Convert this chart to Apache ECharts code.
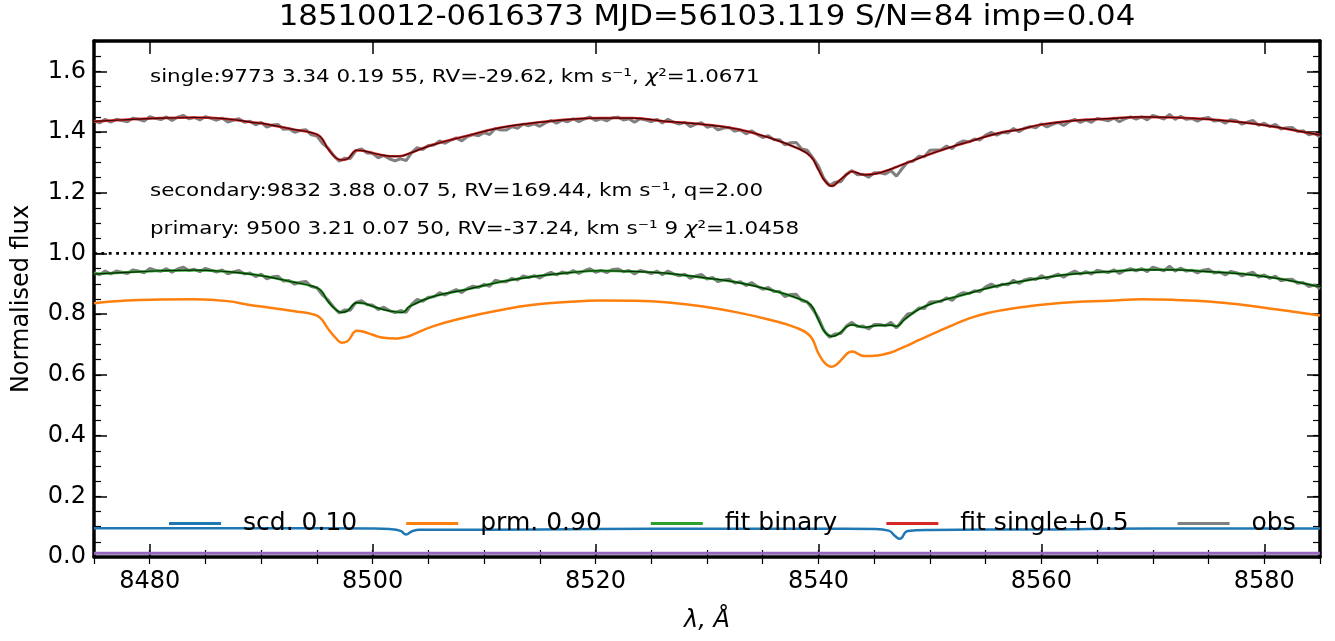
<!DOCTYPE html>
<html><head><meta charset="utf-8">
<script src="https://cdn.jsdelivr.net/npm/echarts@6/dist/echarts.min.js"></script>
<style>html,body{margin:0;padding:0;background:#fff}#c{width:1335px;height:641px}</style>
</head><body><div id="c"></div><script>
// ---- axis ranges / ticks ----
const xMin = 8475, xMax = 8585;
const yMin = 0, yMax = 1.7, yStep = 0.2;
const refLevel = 1.0;       // dotted reference line
const baseLevel = 0.012;    // purple base line
const singleOffset = 0.5;   // "fit single+0.5"

// ---- smooth model curves (wavelength grid) ----
const fitWl = [8475,8478,8481,8484,8487,8489,8490.5,8493,8494.5,8495.3,8496,8496.7,8497.2,8497.7,8498.6,8499.2,8500,8501,8502,8502.7,8503.3,8505.4,8508.4,8511.4,8514.4,8517.4,8520.4,8523.3,8526.3,8529.5,8532.7,8535.7,8538.1,8539.3,8540.0,8540.6,8541.2,8541.8,8542.6,8543.0,8544.1,8545.3,8546.5,8547.0,8547.7,8549.1,8550.6,8552.1,8553.6,8555.1,8556.6,8558,8560,8563,8566,8569,8572,8575,8578,8581,8585];
const primaryFlux = [0.836,0.845,0.848,0.849,0.843,0.830,0.823,0.810,0.801,0.788,0.752,0.721,0.706,0.710,0.745,0.742,0.732,0.722,0.720,0.723,0.728,0.760,0.790,0.813,0.831,0.840,0.845,0.844,0.839,0.826,0.806,0.781,0.754,0.726,0.671,0.638,0.627,0.640,0.671,0.677,0.662,0.664,0.674,0.681,0.692,0.716,0.741,0.765,0.787,0.803,0.814,0.822,0.831,0.840,0.844,0.849,0.847,0.842,0.831,0.816,0.796];
const binaryFlux = [0.932,0.938,0.943,0.945,0.940,0.932,0.924,0.905,0.893,0.880,0.842,0.815,0.806,0.810,0.838,0.836,0.826,0.815,0.808,0.806,0.825,0.858,0.881,0.906,0.924,0.936,0.943,0.941,0.935,0.921,0.905,0.880,0.853,0.831,0.781,0.740,0.727,0.735,0.760,0.765,0.757,0.763,0.764,0.760,0.782,0.818,0.840,0.855,0.870,0.885,0.898,0.907,0.919,0.933,0.940,0.946,0.946,0.940,0.933,0.919,0.890];
const singleFlux = [0.935,0.941,0.946,0.948,0.943,0.933,0.926,0.908,0.898,0.885,0.845,0.815,0.808,0.811,0.840,0.838,0.831,0.823,0.820,0.822,0.830,0.858,0.887,0.914,0.930,0.941,0.946,0.946,0.935,0.926,0.910,0.880,0.847,0.820,0.776,0.738,0.722,0.738,0.762,0.770,0.759,0.764,0.778,0.785,0.795,0.815,0.835,0.853,0.869,0.886,0.900,0.908,0.925,0.938,0.944,0.950,0.948,0.942,0.932,0.917,0.890];

// ---- secondary component ----
const scdWl = [8475,8490,8500,8501.5,8502.5,8503.0,8503.5,8504.2,8510,8520,8530,8540,8545,8546.3,8546.9,8547.3,8548.0,8550,8560,8570,8585];
const scdFlux = [0.095,0.095,0.094,0.092,0.086,0.074,0.084,0.090,0.090,0.092,0.093,0.093,0.092,0.087,0.068,0.060,0.086,0.089,0.091,0.094,0.094];

// ---- observed spectrum (sampled every 0.5 A from 8475) ----
const obsStart = 8475, obsStep = 0.5;
const obsFlux = [0.937,0.930,0.942,0.933,0.942,0.938,0.934,0.946,0.942,0.936,0.951,0.945,0.941,0.950,0.938,0.949,0.955,0.944,0.948,0.940,
0.951,0.945,0.939,0.946,0.933,0.939,0.944,0.932,0.936,0.924,0.932,0.916,0.923,0.925,0.909,0.911,0.899,0.905,0.908,0.891,
0.887,0.863,0.847,0.823,0.804,0.814,0.813,0.839,0.844,0.831,0.830,0.815,0.823,0.812,0.805,0.812,0.806,0.832,0.849,0.842,
0.856,0.857,0.871,0.863,0.873,0.881,0.871,0.885,0.892,0.888,0.898,0.892,0.912,0.907,0.907,0.918,0.912,0.926,0.921,0.927,
0.919,0.930,0.938,0.929,0.939,0.934,0.944,0.934,0.943,0.950,0.938,0.944,0.937,0.947,0.949,0.940,0.944,0.932,0.944,0.940,
0.934,0.942,0.930,0.942,0.933,0.926,0.932,0.918,0.926,0.931,0.916,0.921,0.907,0.913,0.915,0.903,0.907,0.894,0.904,0.892,
0.882,0.888,0.875,0.875,0.858,0.865,0.866,0.844,0.840,0.815,0.788,0.746,0.724,0.735,0.736,0.761,0.773,0.759,0.761,0.751,
0.766,0.766,0.762,0.773,0.755,0.779,0.801,0.804,0.820,0.819,0.840,0.841,0.842,0.854,0.845,0.863,0.871,0.868,0.877,0.874,
0.890,0.899,0.890,0.899,0.897,0.912,0.901,0.913,0.918,0.914,0.927,0.917,0.925,0.932,0.922,0.934,0.942,0.932,0.940,0.932,
0.945,0.941,0.937,0.946,0.934,0.944,0.950,0.943,0.950,0.940,0.955,0.949,0.943,0.958,0.942,0.952,0.942,0.945,0.936,0.945,
0.948,0.936,0.939,0.929,0.941,0.937,0.926,0.933,0.938,0.922,0.929,0.918,0.925,0.910,0.914,0.915,0.902,0.904,0.891,0.896,
0.884];
const obsWl = obsFlux.map((_, i) => obsStart + i * obsStep);

// ---- texts ----
const titleText = '18510012-0616373 MJD=56103.119 S/N=84 imp=0.04';
const legendNames = ['scd. 0.10', 'prm. 0.90', 'fit binary', 'fit single+0.5', 'obs'];

const FONT = '"DejaVu Sans", sans-serif';
function pairs(xs, ys, off) { return xs.map((x, i) => [x, ys[i] + (off || 0)]); }

const majorTick = {show: true, inside: true, length: 13, lineStyle: {color: '#000', width: 1.5}};
const minorTick = {show: true, inside: true, length: 7, lineStyle: {color: '#000', width: 1.2}};
const frame = {show: true, onZero: false, lineStyle: {color: '#000', width: 3.5}};
const noSplit = {show: false};

function line(name, data, color, width, extra) {
  return Object.assign({
    name: name, type: 'line', data: data, color: color, showSymbol: false, symbol: 'none',
    lineStyle: {width: width, color: color}, xAxisIndex: 0, yAxisIndex: 0, silent: true
  }, extra || {});
}
const SM = {smooth: 0.45};

const chart = echarts.init(document.getElementById('c'));
chart.setOption({
  animation: false,
  backgroundColor: '#fff',
  grid: {left: 94, right: 15, top: 41, bottom: 84, containLabel: false},
  xAxis: [
    {type: 'value', min: xMin, max: xMax, splitNumber: 5, position: 'bottom', axisLine: frame, axisTick: majorTick,
     axisLabel: {color: '#000', fontSize: 24, fontFamily: FONT, margin: 13, showMinLabel: false, showMaxLabel: false, formatter: v => String(v)},
     splitLine: noSplit},
    {type: 'value', min: xMin, max: xMax, interval: 5, position: 'bottom', axisLine: {show: false}, axisTick: minorTick, axisLabel: {show: false}, splitLine: noSplit},
    {type: 'value', min: xMin, max: xMax, splitNumber: 5, position: 'top', axisLine: frame, axisTick: majorTick, axisLabel: {show: false}, splitLine: noSplit},
    {type: 'value', min: xMin, max: xMax, interval: 5, position: 'top', axisLine: {show: false}, axisTick: minorTick, axisLabel: {show: false}, splitLine: noSplit}
  ],
  yAxis: [
    {type: 'value', min: yMin, max: yMax, interval: yStep, position: 'left', axisLine: frame, axisTick: majorTick,
     axisLabel: {color: '#000', fontSize: 24, fontFamily: FONT, margin: 8, showMaxLabel: false, formatter: v => v.toFixed(1)},
     splitLine: noSplit},
    {type: 'value', min: yMin, max: yMax, interval: 0.05, position: 'left', axisLine: {show: false}, axisTick: minorTick, axisLabel: {show: false}, splitLine: noSplit},
    {type: 'value', min: yMin, max: yMax, interval: yStep, position: 'right', axisLine: frame, axisTick: majorTick, axisLabel: {show: false}, splitLine: noSplit},
    {type: 'value', min: yMin, max: yMax, interval: 0.05, position: 'right', axisLine: {show: false}, axisTick: minorTick, axisLabel: {show: false}, splitLine: noSplit}
  ],
  legend: {
    data: legendNames, left: 164, top: 506, icon: 'rect', itemWidth: 52, itemHeight: 3, itemGap: 49,
    selectedMode: false,
    textStyle: {color: '#000', fontSize: 25, fontFamily: FONT, padding: [0, 0, 0, 17]}
  },
  series: [
    line('obs', pairs(obsWl, obsFlux), '#808080', 3, {z: 2}),
    line('obs', pairs(obsWl, obsFlux, singleOffset), '#808080', 3, {z: 2}),
    line('scd. 0.10', pairs(scdWl, scdFlux), '#1f77b4', 2.5, Object.assign({z: 3}, SM)),
    line('prm. 0.90', pairs(fitWl, primaryFlux), '#ff7f0e', 2.5, Object.assign({z: 3}, SM)),
    line('fit binary', pairs(fitWl, binaryFlux), '#2ca02c', 2.5, Object.assign({z: 3}, SM)),
    line('fit single+0.5', pairs(fitWl, singleFlux, singleOffset), '#d62728', 2.5, Object.assign({z: 3}, SM)),
    line('core1', pairs(fitWl, binaryFlux), '#000', 1.2, Object.assign({z: 4, lineStyle: {width: 1.2, color: 'rgba(0,0,0,0.75)'}}, SM)),
    line('core2', pairs(fitWl, singleFlux, singleOffset), '#000', 1.2, Object.assign({z: 4, lineStyle: {width: 1.2, color: 'rgba(0,0,0,0.75)'}}, SM)),
    line('ref', [[xMin, refLevel], [xMax, refLevel]], '#000', 2.5, {z: 3, lineStyle: {width: 2.8, color: '#000', type: [2.8, 4.6]}}),
    line('base', [[xMin, baseLevel], [xMax, baseLevel]], '#9467bd', 3, {z: 3})
  ],
  graphic: [
    {type: 'text', x: 707, y: 18, scaleX: 1.1, silent: true, style: {text: titleText, font: '28px ' + FONT, fill: '#000', textAlign: 'center', textVerticalAlign: 'middle'}},
    {type: 'text', x: 707, y: 621, silent: true, style: {text: 'λ, Å', font: 'italic 24px ' + FONT, fill: '#000', textAlign: 'center', textVerticalAlign: 'middle'}},
    {type: 'text', x: 22, y: 299, rotation: Math.PI / 2, silent: true, style: {text: 'Normalised flux', font: '24px ' + FONT, fill: '#000', textAlign: 'center', textVerticalAlign: 'middle'}},
    {type: 'text', x: 150, y: 77, scaleX: 1.19, silent: true, z: 10, style: {text: '{n|single:9773 3.34 0.19 55, RV=-29.62, km s⁻¹, }{i|χ}{n|²=1.0671}',
      rich: {n: {font: '18px ' + FONT, fill: '#000'}, i: {font: 'italic 18px ' + FONT, fill: '#000'}}, textVerticalAlign: 'middle'}},
    {type: 'text', x: 150, y: 191, scaleX: 1.19, silent: true, z: 10, style: {text: 'secondary:9832 3.88 0.07 5, RV=169.44, km s⁻¹, q=2.00', font: '18px ' + FONT, fill: '#000', textVerticalAlign: 'middle'}},
    {type: 'text', x: 150, y: 229, scaleX: 1.19, silent: true, z: 10, style: {text: '{n|primary: 9500 3.21 0.07 50, RV=-37.24, km s⁻¹ 9 }{i|χ}{n|²=1.0458}',
      rich: {n: {font: '18px ' + FONT, fill: '#000'}, i: {font: 'italic 18px ' + FONT, fill: '#000'}}, textVerticalAlign: 'middle'}}
  ]
});
</script></body></html>
